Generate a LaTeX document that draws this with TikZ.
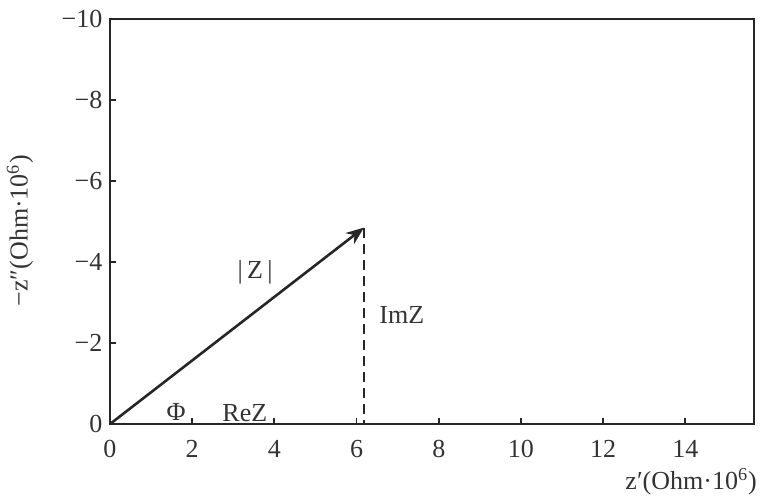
\documentclass[tikz,border=0pt]{standalone}
\usepackage{fontspec}
\setmainfont{Liberation Serif}
\usetikzlibrary{arrows.meta}

\begin{document}
\begin{tikzpicture}[
  x=20.55pt, y=20.25pt,
  every node/.style={font=\fontsize{13}{15}\selectfont, text=black!80},
  frame/.style={line width=1pt, draw=black!85},
  tickmark/.style={line width=0.9pt, draw=black!85},
  vec/.style={-{Stealth[length=9pt,width=7pt]}, line width=1.3pt, draw=black!85},
  proj/.style={dash pattern=on 5pt off 3pt, line width=1.1pt, draw=black!85},
]
\useasboundingbox (-2.676,-1.852) rectangle (15.84,10.47);

% plot frame
\draw[frame] (0,0) rectangle (15.67,10);

% y axis: ticks and labels
\foreach \v in {2,4,...,10}{
  \draw[tickmark] (0,\v) -- (0.15,\v);
  \node[anchor=east, inner sep=2pt] (ylab\v) at (-0.08,\v) {−\v};
}
\node[anchor=east, inner sep=2pt] (ylab0) at (-0.08,0) {0};
\node[rotate=90] (ytitle) at (-2.19,4.77) {−z″(Ohm·10\textsuperscript{6})};

% x axis: ticks and labels
\foreach \u in {2,4,...,14}{
  \draw[tickmark] (\u,0) -- (\u,0.15);
  \node (xlab\u) at (\u,-0.62) {\u};
}
\node (xlab0) at (0,-0.62) {0};
\node (xtitle) at (14.14,-1.43) {z′(Ohm·10\textsuperscript{6})};

% impedance vector and its projection
\coordinate (O) at (0,0);
\coordinate (Z) at (6.18,4.85);
\coordinate (Zfoot) at (6.18,0);
\draw[vec] (O) -- (Z);
\draw[proj] (Z) -- (Zfoot);

\node (absZ) at (3.53,3.75) {|\,Z\,|};
\node (imZ) at (7.10,2.69) {ImZ};
\node (phi) at (1.61,0.30) {Φ};
\node (reZ) at (3.28,0.27) {ReZ};

\end{tikzpicture}
\end{document}
